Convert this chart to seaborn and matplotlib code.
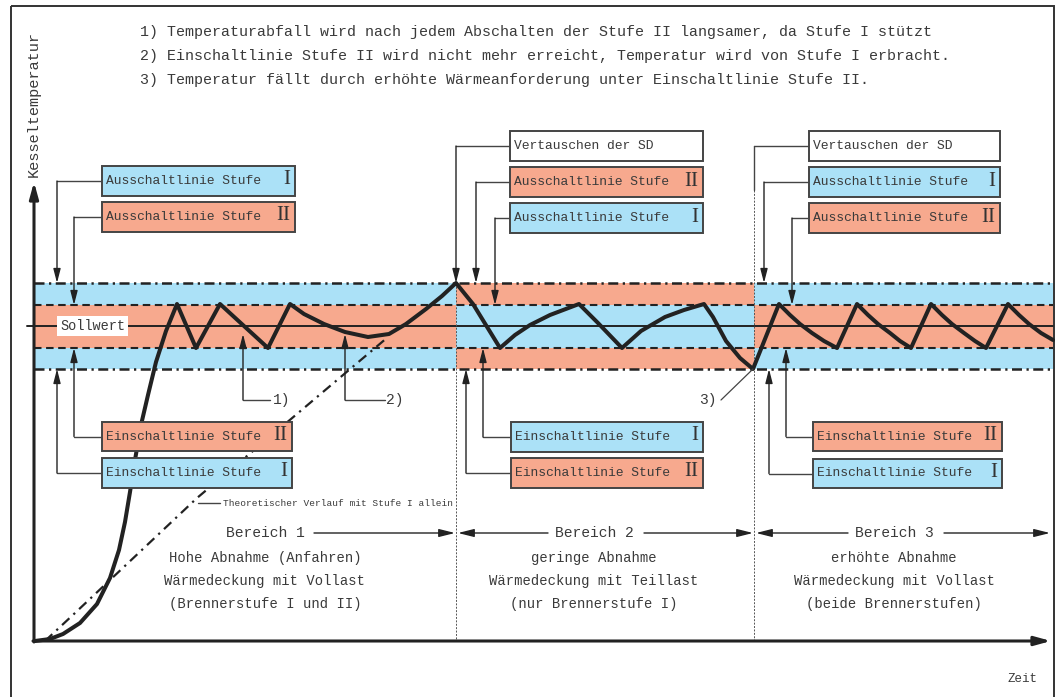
"""
Zweistufiger Brenner: Kesseltemperatur über der Zeit (Schemaskizze)
"""
import matplotlib
matplotlib.use("Agg")
import matplotlib.pyplot as plt
from matplotlib.patches import Rectangle
import pandas as pd
import seaborn as sns

# ── data (sketch units: x = time, y = temperature, y axis drawn downward) ────
REGION_EDGES = [34, 456, 754, 1053]
LEVEL_AUS_OUTER = 283
LEVEL_AUS_INNER = 305
LEVEL_SOLL = 326
LEVEL_EIN_INNER = 348
LEVEL_EIN_OUTER = 369
OUTER_STAGE = ["I", "II", "I"]       # stage on the outer (dash-dot) lines
INNER_STAGE = ["II", "I", "II"]      # stage on the inner (dashed) lines

CURVE_X = [35, 50, 63, 80, 97, 110, 119, 125, 130, 135, 141, 148, 156, 166, 177,
           196, 220, 268, 290,
           304, 324, 345, 368, 389, 406, 426, 442, 456,
           473, 500, 515, 530, 550, 579,
           598, 622, 641, 665, 684, 704,
           713, 726, 740, 753,
           767, 779,
           790, 800, 812, 824, 837, 857,
           868, 878, 890, 900, 911, 931,
           942, 952, 964, 975, 986, 1008,
           1019, 1029, 1041, 1053]
CURVE_Y = [641, 639, 634, 623, 604, 578, 550, 522, 492, 460, 425, 395, 362, 331, 304,
           348, 304, 348, 304,
           314, 324, 332, 337, 334, 324, 309, 296, 283,
           304, 348, 335, 325, 315, 304,
           323, 348, 331, 317, 310, 304,
           317, 341, 358, 369,
           334, 304,
           315, 324, 333, 341, 348, 304,
           315, 324, 333, 341, 348, 304,
           315, 324, 333, 341, 348, 304,
           315, 324, 333, 340]

THEO_X = [45, 75, 197, 291, 388]
THEO_Y = [641, 613, 498, 419, 337]

NOTES = [
    "1) Temperaturabfall wird nach jedem Abschalten der Stufe II langsamer, da Stufe I stützt",
    "2) Einschaltlinie Stufe II wird nicht mehr erreicht, Temperatur wird von Stufe I erbracht.",
    "3) Temperatur fällt durch erhöhte Wärmeanforderung unter Einschaltlinie Stufe II.",
]
BEREICH_TITLES = ["Bereich 1", "Bereich 2", "Bereich 3"]
BEREICH_TEXT = [
    ["Hohe Abnahme (Anfahren)", "Wärmedeckung mit Vollast", "(Brennerstufe I und II)"],
    ["geringe Abnahme", "Wärmedeckung mit Teillast", "(nur Brennerstufe I)"],
    ["erhöhte Abnahme", "Wärmedeckung mit Vollast", "(beide Brennerstufen)"],
]

# ── style ─────────────────────────────────────────────────────────────────────
BLUE = "#abe1f7"
SALMON = "#f7a98e"
INK = "#222222"
TXT = "#3a3a3a"
STAGE_COLOR = {"I": BLUE, "II": SALMON, None: "white"}

sns.set_theme(style="white")
plt.rcParams["font.family"] = ["Liberation Mono", "DejaVu Sans Mono"]

DASHDOT = (0, (4, 1.8, 0.9, 1.8))
DASHED = (0, (3.6, 2.2))

# boxes: (x0, y0, x1, y1, text, stage, leader corner x, leader target y, arrow)
BOXES = [
    (102, 166, 295, 196, "Ausschaltlinie Stufe", "I", 57, LEVEL_AUS_OUTER, True),
    (102, 202, 295, 232, "Ausschaltlinie Stufe", "II", 74, LEVEL_AUS_INNER, True),
    (102, 422, 292, 451, "Einschaltlinie Stufe", "II", 74, LEVEL_EIN_INNER, True),
    (102, 458, 292, 488, "Einschaltlinie Stufe", "I", 57, LEVEL_EIN_OUTER, True),
    (510, 131, 703, 161, "Vertauschen der SD", None, 456, LEVEL_AUS_OUTER, True),
    (510, 167, 703, 197, "Ausschaltlinie Stufe", "II", 476, LEVEL_AUS_OUTER, True),
    (510, 203, 703, 233, "Ausschaltlinie Stufe", "I", 495, LEVEL_AUS_INNER, True),
    (511, 422, 703, 452, "Einschaltlinie Stufe", "I", 483, LEVEL_EIN_INNER, True),
    (511, 458, 703, 488, "Einschaltlinie Stufe", "II", 466, LEVEL_EIN_OUTER, True),
    (809, 131, 1000, 161, "Vertauschen der SD", None, 754, 190, False),
    (809, 167, 1000, 197, "Ausschaltlinie Stufe", "I", 764, LEVEL_AUS_OUTER, True),
    (809, 203, 1000, 233, "Ausschaltlinie Stufe", "II", 792, LEVEL_AUS_INNER, True),
    (813, 422, 1002, 451, "Einschaltlinie Stufe", "II", 786, LEVEL_EIN_INNER, True),
    (813, 459, 1002, 488, "Einschaltlinie Stufe", "I", 769, LEVEL_EIN_OUTER, True),
]

ARROW = dict(arrowstyle="-|>,head_length=0.7,head_width=0.18", color=INK,
             lw=1.0, shrinkA=0, shrinkB=0)

fig = plt.figure(figsize=(10.61, 6.97), dpi=100)
ax = fig.add_axes([0, 0, 1, 1])

# outer frame
ax.add_patch(Rectangle((11, 6), 1043, 700, fill=False, ec="#333333", lw=1.4))

# ── switching bands ───────────────────────────────────────────────────────────
for i in range(3):
    x0, x1 = REGION_EDGES[i], REGION_EDGES[i + 1]
    oc = STAGE_COLOR[OUTER_STAGE[i]]
    ic = STAGE_COLOR[INNER_STAGE[i]]
    ax.fill_between([x0, x1], LEVEL_AUS_OUTER, LEVEL_AUS_INNER, color=oc, lw=0)
    ax.fill_between([x0, x1], LEVEL_AUS_INNER, LEVEL_EIN_INNER, color=ic, lw=0)
    ax.fill_between([x0, x1], LEVEL_EIN_INNER, LEVEL_EIN_OUTER, color=oc, lw=0)

x_lo, x_hi = REGION_EDGES[0], REGION_EDGES[-1]
for lvl in (LEVEL_AUS_OUTER, LEVEL_EIN_OUTER):
    ax.plot([x_lo, x_hi], [lvl, lvl], color=INK, lw=1.8, linestyle=DASHDOT)
for lvl in (LEVEL_AUS_INNER, LEVEL_EIN_INNER):
    ax.plot([x_lo, x_hi], [lvl, lvl], color=INK, lw=1.5, linestyle=DASHED)
ax.plot([27, x_hi], [LEVEL_SOLL, LEVEL_SOLL], color=INK, lw=1.4)
ax.text(60, LEVEL_SOLL, "Sollwert", fontsize=9.8, color=TXT, va="center", ha="left",
        bbox=dict(boxstyle="square,pad=0.2", fc="white", ec="none"))

# region dividers
ax.plot([456, 456], [LEVEL_AUS_OUTER, 641], color="#555555", lw=0.7, linestyle=(0, (2, 1.5)))
ax.plot([754, 754], [190, 641], color="#555555", lw=0.7, linestyle=(0, (2, 1.5)))

# ── curves ────────────────────────────────────────────────────────────────────
theo = pd.DataFrame({"t": THEO_X, "T": THEO_Y})
sns.lineplot(data=theo, x="t", y="T", ax=ax, sort=False, estimator=None,
             color=INK, lw=1.6, linestyle=(0, (4.5, 2.5, 1, 2.5)))
curve = pd.DataFrame({"t": CURVE_X, "T": CURVE_Y})
sns.lineplot(data=curve, x="t", y="T", ax=ax, sort=False, estimator=None,
             color=INK, lw=2.9)
ax.set_xlim(0, 1061)
ax.set_ylim(697, 0)
ax.axis("off")

# ── axes arrows ───────────────────────────────────────────────────────────────
ax.annotate("", xy=(34, 182), xytext=(34, 642),
            arrowprops=dict(arrowstyle="-|>,head_length=0.8,head_width=0.22",
                            color=INK, lw=2.2, shrinkA=0, shrinkB=0))
ax.annotate("", xy=(1051, 641), xytext=(33, 641),
            arrowprops=dict(arrowstyle="-|>,head_length=0.8,head_width=0.22",
                            color=INK, lw=2.2, shrinkA=0, shrinkB=0))
ax.text(34, 104, "Kesseltemperatur", rotation=90, fontsize=11, color=TXT,
        ha="center", va="center")
ax.text(1022, 679, "Zeit", fontsize=9, color=TXT, ha="center", va="center")

# ── notes ─────────────────────────────────────────────────────────────────────
for k, line in enumerate(NOTES):
    ax.text(140, 32 + 24 * k, line, fontsize=10.85, color=TXT, ha="left", va="center")

# ── label boxes with leader arrows ────────────────────────────────────────────
for x0, y0, x1, y1, label, stage, cx, ty, arrow in BOXES:
    ax.add_patch(Rectangle((x0, y0), x1 - x0, y1 - y0, fc=STAGE_COLOR[stage],
                           ec="#444444", lw=1.4, zorder=3))
    ym = (y0 + y1) / 2
    ax.text(x0 + 4, ym, label, fontsize=9.4, color=TXT, ha="left", va="center", zorder=4)
    if stage:
        ax.text(x1 - 5, ym - 1, stage, fontsize=15, color="#333333", ha="right",
                va="center", family="Liberation Serif", zorder=4)
    ax.plot([x0, cx], [ym, ym], color="#444444", lw=1.0)
    if arrow:
        ax.annotate("", xy=(cx, ty), xytext=(cx, ym), arrowprops=ARROW)
    else:
        ax.plot([cx, cx], [ym, ty], color="#444444", lw=1.0)

# ── numbered callouts ─────────────────────────────────────────────────────────
ax.annotate("", xy=(243, 334), xytext=(243, 400), arrowprops=ARROW)
ax.plot([243, 270], [400, 400], color="#444444", lw=1.0)
ax.text(273, 400, "1)", fontsize=10.5, color=TXT, va="center")
ax.annotate("", xy=(345, 334), xytext=(345, 400), arrowprops=ARROW)
ax.plot([345, 385], [400, 400], color="#444444", lw=1.0)
ax.text(386, 400, "2)", fontsize=10.5, color=TXT, va="center")
ax.plot([721, 753], [400, 369], color="#444444", lw=0.9)
ax.text(699, 400, "3)", fontsize=10.5, color=TXT, va="center")

ax.plot([198, 220], [503, 503], color="#444444", lw=1.0)
ax.text(223, 503, "Theoretischer Verlauf mit Stufe I allein", fontsize=6.8,
        color=TXT, va="center")

# ── region descriptions ───────────────────────────────────────────────────────
centers = [265, 594, 894]
title_spans = [(225, 306), (552, 636), (852, 936)]
head = dict(arrowstyle="-|>,head_length=0.8,head_width=0.2", color=INK,
            lw=1.0, shrinkA=0, shrinkB=0)
for i in range(3):
    cx = centers[i]
    ax.text(cx, 533, BEREICH_TITLES[i], fontsize=10.5, color=TXT, ha="center", va="center")
    for k, line in enumerate(BEREICH_TEXT[i]):
        ax.text(cx, 558 + 23 * k, line, fontsize=10, color=TXT, ha="center", va="center")
    x0, x1 = REGION_EDGES[i], REGION_EDGES[i + 1]
    left, right = title_spans[i]
    if i > 0:
        ax.annotate("", xy=(x0 + 2, 533), xytext=(left - 4, 533), arrowprops=head)
    ax.annotate("", xy=(x1 - 1 if i < 2 else 1050, 533), xytext=(right + 8, 533),
                arrowprops=head)

fig.savefig("out.png", dpi=100)
